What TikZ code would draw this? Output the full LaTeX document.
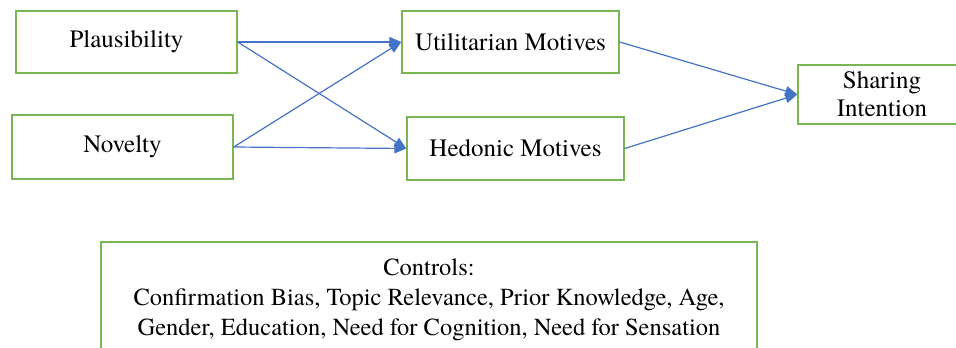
\documentclass[tikz,border=0pt]{standalone}
\usepackage{fontspec}
\setmainfont{texgyretermes}[Extension=.otf, UprightFont=*-regular, BoldFont=*-bold, ItalicFont=*-italic, BoldItalicFont=*-bolditalic]
\usetikzlibrary{arrows.meta}
\definecolor{boxgreen}{RGB}{122,183,84}
\definecolor{arrowblue}{RGB}{68,114,196}
\tikzset{
  var/.style={draw=boxgreen, line width=1.4pt, inner sep=0pt, align=center,
    font=\fontsize{25}{28}\selectfont},
  link/.style={draw=arrowblue, line width=1.2pt, -{Triangle[length=12pt,width=10pt]}}
}

\begin{document}
\begin{tikzpicture}[x=1pt, y=-1pt]
        \useasboundingbox (0,0) rectangle (956,348);
        % predictors
        \node[var, minimum width=221pt, minimum height=62pt] (plaus) at (126.5,42) {Plausibility};
        \node[var, minimum width=221pt, minimum height=64pt] (novel) at (122.5,147) {Novelty};
        % motives
        \node[var, minimum width=217pt, minimum height=62pt] (util) at (510.5,42) {Utilitarian Motives};
        \node[var, minimum width=217pt, minimum height=63pt] (hedon) at (515.5,148.5) {Hedonic Motives};
        % outcome
        \node[var, minimum width=168pt, minimum height=59pt] (share) at (882,94.5) {Sharing\\Intention};
        % controls
        \node[var, minimum width=656pt, minimum height=115pt, font=\fontsize{24.5}{30}\selectfont] (ctrl) at (429,299.5)
            {Controls:\\Confirmation Bias, Topic Relevance, Prior Knowledge, Age,\\Gender, Education, Need for Cognition, Need for Sensation};
        \draw[link] (plaus.east) -- (util.west);
        \draw[link] (plaus.east) -- (hedon.west);
        \draw[link] (novel.east) -- (util.west);
        \draw[link] (novel.east) -- (hedon.west);
        \draw[link] (util.east) -- (share.west);
        \draw[link] (hedon.east) -- (share.west);
    \end{tikzpicture}
\end{document}
